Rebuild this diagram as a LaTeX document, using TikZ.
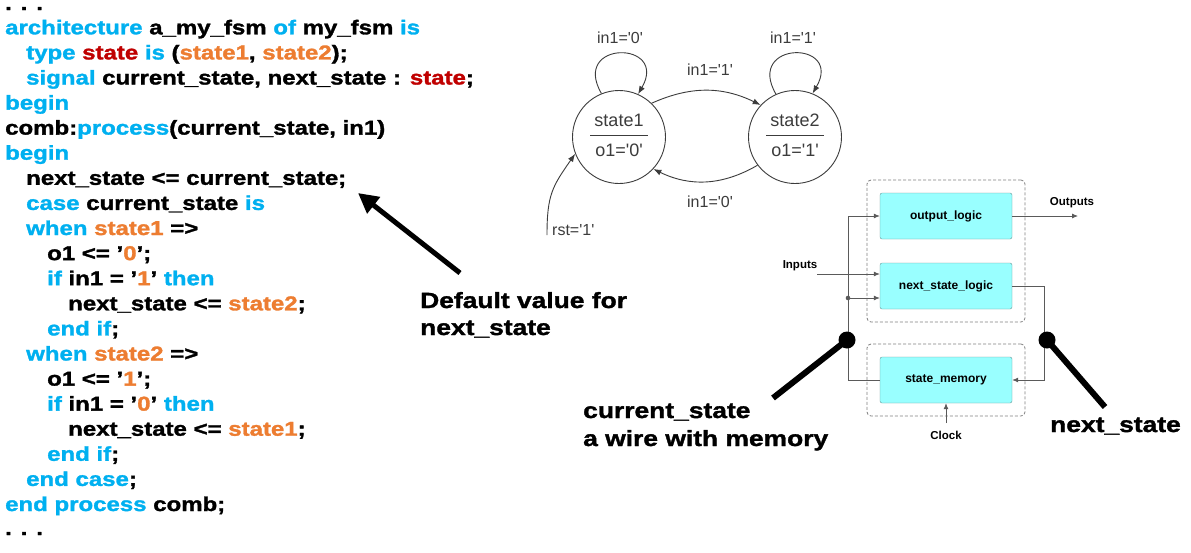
\documentclass[tikz,border=0pt]{standalone}
\usepackage{fontspec}
\setmainfont{Liberation Sans}
\newfontfamily\codefont{Liberation Sans}[FakeStretch=1.2, FakeBold=1.5]
\usetikzlibrary{arrows.meta,calc}
\definecolor{kwblue}{RGB}{0,176,240}
\definecolor{tyred}{RGB}{192,0,0}
\definecolor{enorange}{RGB}{237,125,49}
\definecolor{diag}{RGB}{60,60,60}
\definecolor{blkfill}{RGB}{153,255,255}
\definecolor{blkdraw}{RGB}{100,150,150}
\definecolor{wiregray}{RGB}{90,90,90}
\newcommand\cKw[1]{\textcolor{kwblue}{#1}}
\newcommand\cTy[1]{\textcolor{tyred}{#1}}
\newcommand\cEn[1]{\textcolor{enorange}{#1}}
\newcommand\sqt{\textquotesingle}
\begin{document}
\begin{tikzpicture}[x=1pt,y=1pt,
  codeln/.style={anchor=base west, inner sep=0pt, font=\codefont\bfseries\fontsize{20}{24}\selectfont},
  biglbl/.style={anchor=base west, inner sep=0pt, font=\codefont\bfseries\fontsize{22}{26}\selectfont},
  stnode/.style={circle, draw=diag, line width=0.9pt, minimum size=93pt, inner sep=0pt},
  sttext/.style={font=\fontsize{18}{20}\selectfont, text=diag, inner sep=0pt},
  edgelbl/.style={font=\fontsize{16}{18}\selectfont, text=diag, inner sep=0pt},
  tr/.style={draw=diag, line width=0.9pt, -{Latex[length=8pt,width=6pt]}},
  blk/.style={draw=blkdraw, fill=blkfill, rounded corners=2pt, minimum width=132pt, minimum height=46pt, font=\bfseries\fontsize{12}{14}\selectfont, inner sep=0pt},
  dbox/.style={draw=gray, dash pattern=on 3pt off 2pt, rounded corners=4pt, minimum width=158pt, inner sep=0pt, line width=0.8pt},
  wire/.style={draw=wiregray, line width=0.8pt},
  wirearrow/.style={wire, -{Latex[length=6pt,width=5pt]}},
  smalllbl/.style={font=\bfseries\fontsize{11.5}{13}\selectfont, inner sep=0pt},
  bigdot/.style={circle, fill=black, minimum size=17pt, inner sep=0pt},
  pointer/.style={line width=6pt, black}
]
\fill[white] (0,0) rectangle (1191,-552);
\useasboundingbox (0,0) rectangle (1191,-552);

% ---------------- code ----------------
\node[codeln] (c0) at (5,-10) {. . .};
\node[codeln] (c1) at (5,-34.3) {\cKw{architecture} a\_my\_fsm \cKw{of} my\_fsm \cKw{is}};
\node[codeln] (c2) at (26,-59.4) {\cKw{type} \cTy{state} \cKw{is} (\cEn{state1}, \cEn{state2});};
\node[codeln] (c3) at (26,-84.5) {\cKw{signal} current\_state, next\_state : \cTy{state};};
\node[codeln] (c4) at (5,-109.6) {\cKw{begin}};
\node[codeln] (c5) at (5,-134.6) {comb:\cKw{process}(current\_state, in1)};
\node[codeln] (c6) at (5,-159.7) {\cKw{begin}};
\node[codeln] (c7) at (26,-184.8) {next\_state <= current\_state;};
\node[codeln] (c8) at (26,-209.9) {\cKw{case} current\_state \cKw{is}};
\node[codeln] (c9) at (26,-235.0) {\cKw{when} \cEn{state1} =>};
\node[codeln] (c10) at (47,-260.1) {o1 <= ’\cEn{0}’;};
\node[codeln] (c11) at (47,-285.2) {\cKw{if} in1 = ’\cEn{1}’ \cKw{then}};
\node[codeln] (c12) at (68,-310.3) {next\_state <= \cEn{state2};};
\node[codeln] (c13) at (47,-335.4) {\cKw{end if};};
\node[codeln] (c14) at (26,-360.5) {\cKw{when} \cEn{state2} =>};
\node[codeln] (c15) at (47,-385.6) {o1 <= ’\cEn{1}’;};
\node[codeln] (c16) at (47,-410.6) {\cKw{if} in1 = ’\cEn{0}’ \cKw{then}};
\node[codeln] (c17) at (68,-435.7) {next\_state <= \cEn{state1};};
\node[codeln] (c18) at (47,-460.8) {\cKw{end if};};
\node[codeln] (c19) at (26,-485.9) {\cKw{end case};};
\node[codeln] (c20) at (5,-511.0) {\cKw{end process} comb;};
\node[codeln] (c21) at (5,-535) {. . .};

% default value arrow
\coordinate (da) at (460,-273);
\coordinate (dt) at (358,-193);
\draw[line width=5pt, -{Triangle[length=20pt,width=20pt]}] (da) -- (dt);
\node[biglbl] (dv1) at (420,-308) {Default value for};
\node[biglbl] (dv2) at (420,-335) {next\_state};

% ---------------- state diagram ----------------
\node[stnode] (s1) at (619,-137) {};
\node[stnode] (s2) at (795,-137) {};
\node[sttext] (s1a) at (619,-120) {state1};
\node[sttext] (s1b) at (619,-150) {o1=\sqt0\sqt};
\draw[diag, line width=0.9pt] (590,-135) -- (648,-135);
\node[sttext] (s2a) at (795,-120) {state2};
\node[sttext] (s2b) at (795,-150) {o1=\sqt1\sqt};
\draw[diag, line width=0.9pt] (766,-135) -- (824,-135);

\draw[tr] (s1.112) to[out=120, in=60, distance=62pt] (s1.66);
\node[edgelbl] (l1) at (620,-38) {in1=\sqt0\sqt};
\draw[tr] (s2.114) to[out=120, in=60, distance=62pt] (s2.68);
\node[edgelbl] (l2) at (793,-38) {in1=\sqt1\sqt};
\draw[tr] (s1.46) to[bend left=25] (s2.137);
\node[edgelbl] (l3) at (710,-70) {in1=\sqt1\sqt};
\draw[tr] (s2.217) to[bend left=28] (s1.317);
\node[edgelbl] (l4) at (710,-202) {in1=\sqt0\sqt};
\coordinate (rst) at (547,-235);
\draw[tr] (rst) to[out=90, in=235, distance=40pt] (s1.201);
\node[edgelbl, anchor=west] (l5) at (552,-230) {rst=\sqt1\sqt};

% ---------------- block diagram ----------------
\node[dbox, minimum height=142pt] (g1) at (946,-251) {};
\node[dbox, minimum height=72pt] (g2) at (946,-380) {};
\node[blk] (ol) at (946,-216) {output\_logic};
\node[blk] (nsl) at (946,-286) {next\_state\_logic};
\node[blk] (sm) at (946,-380) {state\_memory};

\coordinate (cl) at (848,-298);
\draw[wirearrow] (sm.west) -| (cl) |- (ol.west);
\draw[wirearrow] (cl) -- (cl -| nsl.west);
\fill[wiregray] (cl) circle (2.3);
\coordinate (inp) at (817,-274);
\draw[wirearrow] (inp) -- (inp -| nsl.west);
\node[smalllbl] (inl) at (800,-266) {Inputs};
\coordinate (cr) at (1044,-330);
\draw[wirearrow] (nsl.east) -| (cr) |- (sm.east);
\coordinate (outp) at (1078,-216);
\draw[wirearrow] (ol.east) -- (outp);
\node[smalllbl] (outl) at (1072,-203) {Outputs};
\coordinate (clk) at (946,-423);
\draw[wirearrow] (clk) -- (sm.south);
\node[smalllbl] (clkl) at (946,-435) {Clock};

% pointers
\node[bigdot] (d1) at (847,-340) {};
\coordinate (p1) at (773,-398);
\draw[pointer] (p1) -- (d1.center);
\node[bigdot] (d2) at (1047,-340) {};
\coordinate (p2) at (1105,-407);
\draw[pointer] (d2.center) -- (p2);
\node[biglbl] (cs1) at (583,-418) {current\_state};
\node[biglbl] (cs2) at (583,-446) {a wire with memory};
\node[biglbl] (ns) at (1050,-432) {next\_state};
\end{tikzpicture}
\end{document}
